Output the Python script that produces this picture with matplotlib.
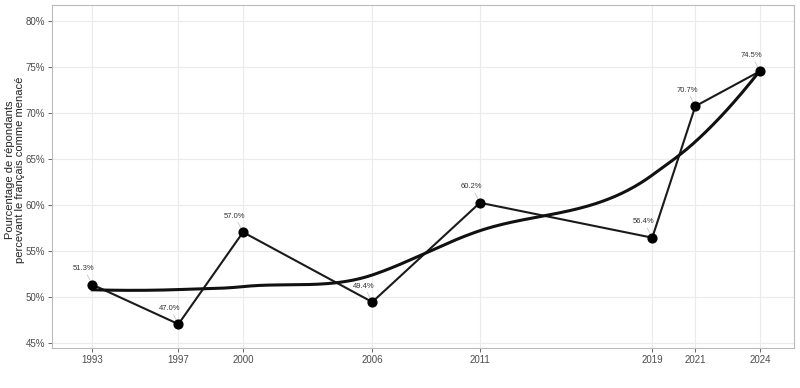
import numpy as np
import matplotlib.pyplot as plt

plt.rcParams['font.family'] = ['Liberation Sans', 'DejaVu Sans']

# data
years = [1993, 1997, 2000, 2006, 2011, 2019, 2021, 2024]
pct = [51.3, 47.0, 57.0, 49.4, 60.2, 56.4, 70.7, 74.5]
labels = ['51.3%', '47.0%', '57.0%', '49.4%', '60.2%', '56.4%', '70.7%', '74.5%']
yticks = [45, 50, 55, 60, 65, 70, 75, 80]


# local quadratic fit (loess, span 0.75, tricube) -> value and slope at x0
def local_fit(x, y, x0, span=0.75):
    q = int(np.floor(len(x) * span))
    d = np.abs(x - x0)
    h = np.sort(d)[q - 1] * 1.0001
    w = np.clip(1 - (d / h) ** 3, 0, None) ** 3
    X = np.vstack([np.ones_like(x), x - x0, (x - x0) ** 2]).T
    W = np.diag(w)
    beta = np.linalg.lstsq(X.T @ W @ X, X.T @ W @ y, rcond=None)[0]
    return beta[0], beta[1]


# kd-tree vertices like R's loess (surface = "interpolate")
def kd_vertices(x, fc=1):
    x = np.sort(x)
    margin = 0.1 * (x[-1] - x[0])
    lo, hi = x[0] - margin, x[-1] + margin
    verts = {lo, hi}

    def split(pts, lo, hi):
        if len(pts) <= fc:
            return
        m = (1 + len(pts)) // 2
        v = pts[m - 1]
        if v == lo or v == hi:
            return
        verts.add(v)
        split(pts[:m], lo, v)
        split(pts[m:], v, hi)
    split(x, lo, hi)
    return np.array(sorted(verts))


def loess_curve(x, y, xs):
    x = np.asarray(x, float)
    y = np.asarray(y, float)
    vx = kd_vertices(x)
    fits = [local_fit(x, y, v) for v in vx]
    vy = np.array([f[0] for f in fits])
    vd = np.array([f[1] for f in fits])
    out = []
    for t in xs:
        i = min(np.searchsorted(vx, t, side='right') - 1, len(vx) - 2)
        h = vx[i + 1] - vx[i]
        s = (t - vx[i]) / h
        out.append((2*s**3 - 3*s**2 + 1) * vy[i] + (s**3 - 2*s**2 + s) * h * vd[i]
                   + (-2*s**3 + 3*s**2) * vy[i + 1] + (s**3 - s**2) * h * vd[i + 1])
    return np.array(out)


xs = np.linspace(min(years), max(years), 300)
ys = loess_curve(years, pct, xs)

fig, ax = plt.subplots(figsize=(8, 3.88), dpi=100)
fig.subplots_adjust(left=0.065, right=0.993, top=0.987, bottom=0.103)

for y in yticks:
    ax.axhline(y, color='#EBEBEB', lw=0.8, zorder=0)
for x in years:
    ax.axvline(x, color='#EBEBEB', lw=0.8, zorder=0)

ax.plot(years, pct, color='#1a1a1a', lw=1.5, zorder=2)
ax.plot(xs, ys, color='#111111', lw=2.2, zorder=3)
ax.scatter(years, pct, s=40, color='black', zorder=4)

for x, y, t in zip(years, pct, labels):
    ax.annotate(t, (x, y), xytext=(-6, 9), textcoords='offset points',
                ha='center', va='bottom', fontsize=5.5, color='#333333',
                arrowprops=dict(arrowstyle='-', color='#BBBBBB', lw=0.5,
                                shrinkA=0, shrinkB=3))

ax.set_xlim(1991.13, 2025.6)
ax.set_ylim(44.4, 81.7)
ax.set_xticks(years)
ax.set_yticks(yticks)
ax.set_yticklabels([f'{v}%' for v in yticks])
ax.tick_params(labelsize=7, colors='#4D4D4D', length=3, width=0.6, pad=2)
for s in ax.spines.values():
    s.set_color('#BBBBBB')
    s.set_linewidth(0.8)

ax.set_ylabel('Pourcentage de répondants\npercevant le français comme menacé',
              fontsize=8, color='#222222', linespacing=1.0)
ax.yaxis.set_label_coords(-0.036, 0.52)

fig.savefig('out.png', dpi=100)
